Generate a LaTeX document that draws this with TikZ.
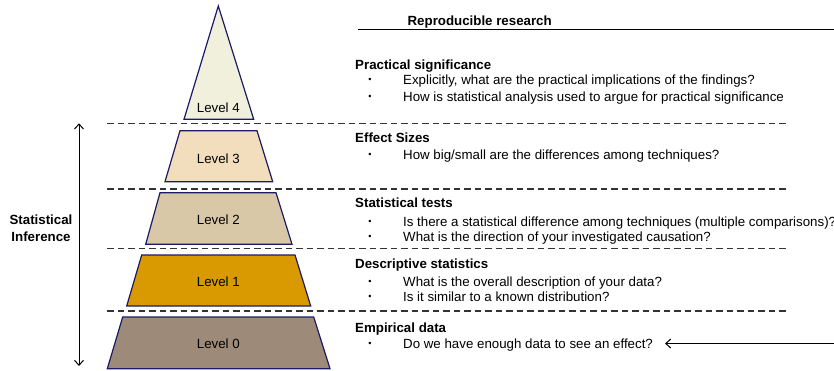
\documentclass[tikz,border=0pt]{standalone}
\usepackage{fontspec}
\setmainfont{Liberation Sans}
\usetikzlibrary{arrows.meta}
\definecolor{edgeblue}{HTML}{1A1A66}
\definecolor{lfour}{HTML}{F0F0DC}
\definecolor{lthree}{HTML}{F2DEBC}
\definecolor{ltwo}{HTML}{D9C8A8}
\definecolor{lone}{HTML}{D99900}
\definecolor{lzero}{HTML}{9E8A78}
\definecolor{dashgray}{HTML}{333333}
\tikzset{
  levelshape/.style={draw=edgeblue, line width=1.2pt, line join=miter},
  levellabel/.style={font=\fontsize{13.3}{16}\selectfont, inner sep=0pt},
  sepline/.style={draw=dashgray, line width=1.3pt, dash pattern=on 6.5pt off 4pt},
  headtext/.style={font=\fontsize{13.3}{16}\selectfont\bfseries, anchor=base west, inner sep=0pt},
  itemtext/.style={font=\fontsize{13.3}{16}\selectfont, anchor=base west, inner sep=0pt},
  bullettext/.style={font=\fontsize{9}{10}\selectfont, anchor=center, inner sep=0pt},
  barb/.style={line width=1pt, {Straight Barb[length=5pt,width=9pt]}-}
}
\begin{document}
\begin{tikzpicture}[x=1pt,y=-1pt]
\useasboundingbox (0,0) rectangle (834,371);
% pyramid levels
\path[levelshape, fill=lfour] (218.3,6) -- (253.7,119.3) -- (184,119.3) -- cycle;
\path[levelshape, fill=lthree] (180,130.7) -- (257,130.7) -- (272.7,181.7) -- (165,181.7) -- cycle;
\path[levelshape, fill=ltwo] (160,192.7) -- (276,192.7) -- (292,244.3) -- (145.7,244.3) -- cycle;
\path[levelshape, fill=lone] (141.7,255) -- (295,255) -- (310.7,306) -- (126.7,306) -- cycle;
\path[levelshape, fill=lzero] (122.7,317) -- (313.7,317) -- (330,368.7) -- (107.3,368.7) -- cycle;
\node[levellabel] (lv4) at (218.3,107.7) {Level 4};
\node[levellabel] (lv3) at (218.3,158.3) {Level 3};
\node[levellabel] (lv2) at (218.3,220) {Level 2};
\node[levellabel] (lv1) at (218.3,281.7) {Level 1};
\node[levellabel] (lv0) at (218.3,343.3) {Level 0};
% dashed separators
\draw[sepline] (107,123.3) -- (787,123.3);
\draw[sepline] (107,189) -- (787,189);
\draw[sepline] (107,248.7) -- (787,248.7);
\draw[sepline] (107,311) -- (787,311);
% reproducible research
\draw[line width=1pt] (358,29.3) -- (834,29.3);
\node[headtext, anchor=base] (repro) at (479.7,26) {Reproducible research};
% level 4 text
\node[headtext] (h4) at (355,69.5) {Practical significance};
\node[bullettext] (b4a) at (370,80) {•};
\node[itemtext] (t4a) at (403,84.2) {Explicitly, what are the practical implications of the findings?};
\node[bullettext] (b4b) at (370,97.5) {•};
\node[itemtext] (t4b) at (403,101.8) {How is statistical analysis used to argue for practical significance};
% level 3 text
\node[headtext] (h3) at (355,142.8) {Effect Sizes};
\node[bullettext] (b3a) at (370,155.3) {•};
\node[itemtext] (t3a) at (403,159.5) {How big/small are the differences among techniques?};
% level 2 text
\node[headtext] (h2) at (355,207.8) {Statistical tests};
\node[bullettext] (b2a) at (370,222) {•};
\node[itemtext] (t2a) at (403,226.2) {Is there a statistical difference among techniques (multiple comparisons)?};
\node[bullettext] (b2b) at (370,237.5) {•};
\node[itemtext] (t2b) at (403,241.8) {What is the direction of your investigated causation?};
% level 1 text
\node[headtext] (h1) at (355,268.8) {Descriptive statistics};
\node[bullettext] (b1a) at (370,282) {•};
\node[itemtext] (t1a) at (403,286.2) {What is the overall description of your data?};
\node[bullettext] (b1b) at (370,297.5) {•};
\node[itemtext] (t1b) at (403,301.8) {Is it similar to a known distribution?};
% level 0 text
\node[headtext] (h0) at (355,332.8) {Empirical data};
\node[bullettext] (b0a) at (370,344.2) {•};
\node[itemtext] (t0a) at (403,348.5) {Do we have enough data to see an effect?};
% arrow to empirical data
\coordinate (arrowstart) at (834,343.5);
\coordinate (arrowend) at (665,343.5);
\draw[barb] (arrowend) -- (arrowstart);
% statistical inference
\coordinate (infTop) at (79,123.3);
\coordinate (infBot) at (79,366);
\draw[line width=1pt, {Straight Barb[length=5pt,width=9pt]}-{Straight Barb[length=5pt,width=9pt]}] (infTop) -- (infBot);
\node[font=\fontsize{13.3}{16.7}\selectfont\bfseries, align=center, inner sep=0pt] (inf) at (41,228.5) {Statistical\\Inference};
\end{tikzpicture}
\end{document}
